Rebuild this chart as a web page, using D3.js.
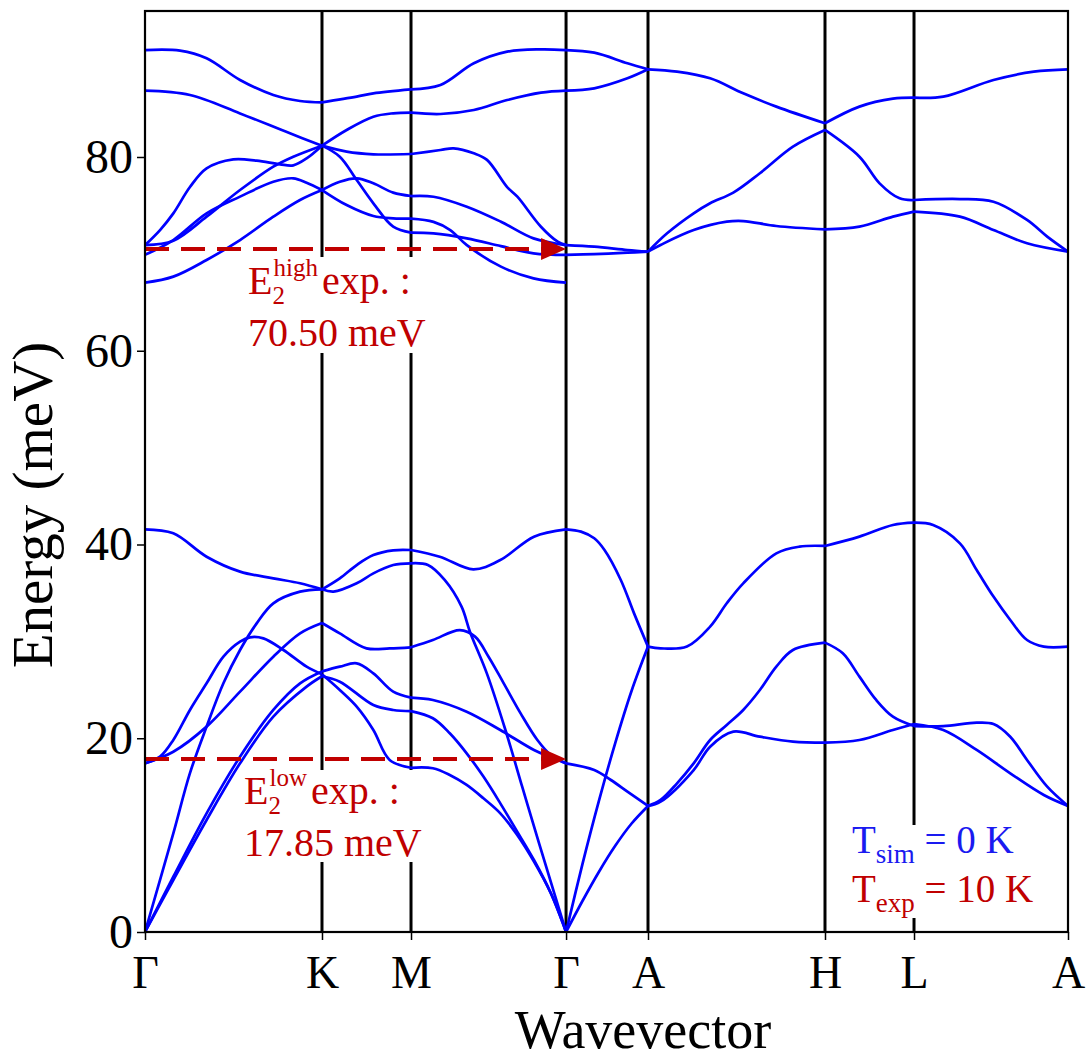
<!DOCTYPE html>
<html>
<head>
<meta charset="utf-8">
<script src="https://cdn.jsdelivr.net/npm/d3@7"></script>
<style>
  html, body { margin: 0; padding: 0; background: #fff; }
  svg { display: block; }
  text { font-family: "Liberation Serif", "Times New Roman", serif; }
</style>
</head>
<body>
<svg id="chart" width="1088" height="1062"></svg>
<script>
// ---------------- data ----------------
const qLabels = ["Γ", "K", "M", "Γ", "A", "H", "L", "A"];
const qPos = [0, 1.0, 1.503, 2.379, 2.842, 3.842, 4.345, 5.215];
const yTicks = [0, 20, 40, 60, 80];
const yMax = 95.07;

// each band: [fraction along segment, energy (meV)]
const bandsGK = [
  [[0,91.04],[0.198,90.98],[0.348,90.19],[0.537,87.95],[0.725,86.40],[0.876,85.78],[1,85.64]],
  [[0,86.85],[0.254,86.40],[0.537,84.50],[0.819,82.44],[1,81.17]],
  [[0,70.9],[0.085,72.46],[0.16,74.18],[0.254,76.9],[0.348,78.83],[0.499,79.76],[0.631,79.62],[0.763,79.24],[0.838,79.14],[0.913,79.86],[1,81.17]],
  [[0,70.9],[0.16,71.36],[0.348,73.84],[0.537,76.59],[0.725,79.0],[0.838,80.03],[1,81.17]],
  [[0,69.9],[0.16,71.43],[0.348,74.18],[0.537,75.91],[0.725,77.45],[0.838,77.8],[0.913,77.35],[1,76.59]],
  [[0,67.03],[0.16,67.65],[0.348,69.37],[0.537,71.43],[0.725,73.84],[0.876,75.56],[1,76.59]],
  [[0,41.57],[0.16,41.15],[0.348,38.74],[0.537,37.2],[0.725,36.51],[0.876,36.0],[1,35.37]],
  [[0,0],[0.16,10.18],[0.254,16.4],[0.348,21.2],[0.443,25.67],[0.537,29.11],[0.631,31.86],[0.725,33.93],[0.876,35.13],[1,35.37]],
  [[0,17.41],[0.16,18.61],[0.348,21.2],[0.537,24.81],[0.725,28.42],[0.876,30.83],[1,31.9]],
  [[0,17.41],[0.085,18.1],[0.16,19.82],[0.254,22.92],[0.348,25.67],[0.443,28.42],[0.537,29.97],[0.593,30.42],[0.669,30.31],[0.782,29.11],[0.913,27.39],[1,26.6]],
  [[0,0],[0.16,5.71],[0.348,12.25],[0.537,18.1],[0.725,22.92],[0.876,25.67],[1,26.9]],
  [[0,0],[0.16,5.37],[0.348,11.56],[0.537,17.41],[0.725,22.23],[0.913,25.33],[1,26.4]]
];
const bandsKM = [
  [[0,85.64],[0.39,86.23],[0.577,86.57],[1,86.98]],
  [[0,81.17],[0.277,82.79],[0.577,84.16],[0.8,84.51],[1,84.58]],
  [[0,81.17],[0.277,80.55],[0.577,80.28],[1,80.31]],
  [[0,81.17],[0.2,80.03],[0.39,77.62],[0.577,75.22],[0.8,72.81],[1,72.2]],
  [[0,76.59],[0.2,77.45],[0.39,77.8],[0.577,77.28],[0.8,76.32],[1,75.97]],
  [[0,76.59],[0.277,75.04],[0.577,73.91],[0.8,73.67],[1,73.63]],
  [[0,35.37],[0.2,36.51],[0.39,37.88],[0.577,38.91],[0.8,39.4],[1,39.43]],
  [[0,35.37],[0.13,35.13],[0.39,35.99],[0.577,37.02],[0.8,37.88],[1,38.06]],
  [[0,31.9],[0.2,30.83],[0.5,29.28],[0.76,29.28],[1,29.39]],
  [[0,26.9],[0.2,27.39],[0.39,27.73],[0.577,26.7],[0.8,24.81],[1,24.2]],
  [[0,26.4],[0.2,25.84],[0.577,23.43],[0.8,22.92],[1,22.8]],
  [[0,26.6],[0.2,24.98],[0.39,23.26],[0.577,20.85],[0.76,17.76],[1,16.95]]
];
const bandsMG = [
  [[0,86.98],[0.19,87.43],[0.405,89.67],[0.62,90.87],[0.838,91.11],[1,91.04]],
  [[0,84.58],[0.19,84.44],[0.405,84.85],[0.62,85.88],[0.838,86.64],[1,86.85]],
  [[0,80.31],[0.19,80.72],[0.275,80.89],[0.405,80.38],[0.49,79.7],[0.62,76.9],[0.686,75.9],[0.838,72.8],[0.946,71.26],[1,70.9]],
  [[0,75.97],[0.145,75.9],[0.36,74.87],[0.58,73.32],[0.79,71.6],[1,70.9]],
  [[0,73.63],[0.145,73.3],[0.253,72.46],[0.36,70.9],[0.58,68.68],[0.79,67.47],[1,67.03]],
  [[0,72.2],[0.145,72.12],[0.36,71.6],[0.58,70.8],[0.79,70.06],[1,69.9]],
  [[0,39.43],[0.185,38.74],[0.402,37.44],[0.576,38.4],[0.793,40.81],[1,41.57]],
  [[0,38.06],[0.109,37.88],[0.217,36.34],[0.326,33.58],[0.38,31.0],[0.489,26.7],[0.609,20.85],[0.717,15.0],[0.826,9.15],[1,0]],
  [[0,29.39],[0.141,30.14],[0.315,31.17],[0.413,30.49],[0.5,28.42],[0.598,25.67],[0.707,22.57],[0.815,19.82],[0.902,18.27],[1,17.41]],
  [[0,24.2],[0.141,23.95],[0.359,22.74],[0.576,20.85],[0.793,18.79],[0.902,18.03],[1,17.41]],
  [[0,22.8],[0.141,22.06],[0.25,20.51],[0.359,18.44],[0.467,16.04],[0.576,13.28],[0.685,10.36],[0.793,7.43],[0.902,4.0],[1,0]],
  [[0,16.95],[0.141,16.9],[0.25,16.21],[0.359,15.18],[0.467,13.8],[0.576,12.25],[0.685,10.01],[0.793,7.26],[0.902,4.0],[1,0]]
];
const bandsGA = [
  [[0,91.04],[0.344,90.77],[0.749,89.67],[1,89.05]],
  [[0,86.85],[0.344,87.09],[0.749,88.12],[1,89.05]],
  [[0,70.9],[0.344,70.74],[0.749,70.4],[1,70.23]],
  [[0,69.9],[0.344,69.98],[0.749,70.12],[1,70.23]],
  [[0,41.57],[0.182,41.33],[0.344,40.64],[0.469,39.43],[0.668,36.34],[0.83,32.89],[1,29.46]],
  [[0,17.41],[0.344,16.72],[0.547,15.69],[0.749,14.49],[1,13.01]],
  [[0,0],[0.2,7.0],[0.4,13.5],[0.6,19.5],[0.8,24.9],[1,29.46]],
  [[0,0],[0.2,3.2],[0.4,6.2],[0.6,8.9],[0.8,11.2],[1,13.01]]
];
const bandsAH = [
  [[0,89.05],[0.164,88.81],[0.351,88.12],[0.538,86.57],[0.725,85.2],[1,83.48]],
  [[0,70.23],[0.108,72.12],[0.258,74.18],[0.351,75.22],[0.482,76.32],[0.632,78.32],[0.819,81.07],[1,82.79]],
  [[0,70.23],[0.071,70.92],[0.258,72.46],[0.445,73.32],[0.538,73.39],[0.725,72.88],[1,72.53]],
  [[0,29.46],[0.071,29.28],[0.22,29.46],[0.351,31.52],[0.445,33.93],[0.538,35.99],[0.725,39.09],[0.856,39.78],[1,39.85]],
  [[0,13.01],[0.071,13.63],[0.164,15.35],[0.258,17.41],[0.351,19.82],[0.445,21.37],[0.538,22.92],[0.632,24.98],[0.725,27.39],[0.819,29.11],[1,29.87]],
  [[0,13.01],[0.071,13.45],[0.258,16.72],[0.351,19.13],[0.482,20.68],[0.632,20.16],[0.819,19.65],[1,19.54]]
];
const bandsHL = [
  [[0,83.48],[0.387,85.2],[0.763,86.02],[1,86.13]],
  [[0,82.79],[0.387,80.03],[0.613,77.28],[0.838,75.73],[1,75.56]],
  [[0,72.53],[0.387,72.81],[0.763,73.84],[1,74.36]],
  [[0,39.85],[0.387,40.81],[0.763,42.01],[1,42.25]],
  [[0,29.87],[0.2,28.77],[0.387,26.36],[0.575,23.95],[0.763,22.23],[1,21.26]],
  [[0,19.54],[0.387,19.82],[0.763,20.85],[1,21.47]]
];
const bandsLA = [
  [[0,86.13],[0.19,86.23],[0.516,87.95],[0.778,88.81],[1,89.05]],
  [[0,75.56],[0.298,75.66],[0.516,75.38],[0.734,73.5],[0.865,71.78],[1,70.23]],
  [[0,74.36],[0.298,73.84],[0.516,72.46],[0.734,71.09],[1,70.23]],
  [[0,42.25],[0.124,42.01],[0.298,40.12],[0.407,37.37],[0.516,34.62],[0.625,32.21],[0.734,30.14],[0.843,29.46],[1,29.46]],
  [[0,21.26],[0.19,21.26],[0.407,21.61],[0.516,21.47],[0.625,20.16],[0.734,17.76],[0.865,15.0],[1,13.01]],
  [[0,21.47],[0.19,20.85],[0.407,18.79],[0.625,16.38],[0.843,14.14],[1,13.01]]
];
const segments = [bandsGK, bandsKM, bandsMG, bandsGA, bandsAH, bandsHL, bandsLA];

// experimental E2 modes
const expModes = [
  { label: "high", value: 70.50, text: "70.50 meV" },
  { label: "low", value: 17.85, text: "17.85 meV" }
];

// ---------------- layout ----------------
const W = 1088, H = 1062;
const m = { left: 145, right: 20, top: 11, bottom: 130 };
const svg = d3.select("#chart");
const x = d3.scaleLinear().domain([0, qPos[qPos.length - 1]]).range([m.left, W - m.right]);
const y = d3.scaleLinear().domain([0, yMax]).range([H - m.bottom, m.top]);
const RED = "#c00000";
const BLUE = "#0000ff";

const defs = svg.append("defs");
defs.append("clipPath").attr("id", "clip").append("rect")
  .attr("x", m.left).attr("y", m.top)
  .attr("width", W - m.left - m.right).attr("height", H - m.top - m.bottom);

// vertical high-symmetry lines
svg.append("g").selectAll("line").data(qPos.slice(1, -1)).join("line")
  .attr("x1", d => x(d)).attr("x2", d => x(d))
  .attr("y1", y(0)).attr("y2", y(yMax))
  .attr("stroke", "#000").attr("stroke-width", 3);

// white boxes behind annotations
const boxes = [
  { x0: 238, x1: 442, y0: 257, y1: 353 },
  { x0: 236, x1: 440, y0: 770, y1: 862 },
  { x0: 840, x1: 1050, y0: 825, y1: 918 }
];
svg.append("g").selectAll("rect").data(boxes).join("rect")
  .attr("x", d => d.x0).attr("y", d => d.y0)
  .attr("width", d => d.x1 - d.x0).attr("height", d => d.y1 - d.y0)
  .attr("fill", "#fff");

// bands
const line = d3.line().curve(d3.curveCatmullRom.alpha(0.5))
  .x(d => x(d[0])).y(d => y(d[1]));
const bandG = svg.append("g").attr("clip-path", "url(#clip)");
segments.forEach((bands, i) => {
  const q0 = qPos[i], q1 = qPos[i + 1];
  bands.forEach(b => {
    const pts = b.map(([f, e]) => [q0 + f * (q1 - q0), e]);
    bandG.append("path").attr("d", line(pts))
      .attr("fill", "none").attr("stroke", BLUE).attr("stroke-width", 2.7)
      .attr("stroke-linejoin", "round");
  });
});

// experimental arrows
const arrowEnd = x(qPos[3]);
const arrowG = svg.append("g");
expModes.forEach(e => {
  const yy = y(e.value);
  arrowG.append("line")
    .attr("x1", x(0)).attr("x2", arrowEnd - 22)
    .attr("y1", yy).attr("y2", yy)
    .attr("stroke", RED).attr("stroke-width", 4)
    .attr("stroke-dasharray", "24,12");
  arrowG.append("path")
    .attr("d", `M${arrowEnd},${yy} L${arrowEnd - 25},${yy - 11} L${arrowEnd - 25},${yy + 11} Z`)
    .attr("fill", RED);
});

// frame
svg.append("rect")
  .attr("x", m.left).attr("y", m.top)
  .attr("width", W - m.left - m.right).attr("height", H - m.top - m.bottom)
  .attr("fill", "none").attr("stroke", "#000").attr("stroke-width", 2.2);

// axes
const yAxis = svg.append("g").attr("transform", `translate(${m.left},0)`)
  .call(d3.axisLeft(y).tickValues(yTicks).tickSize(8).tickPadding(4).tickFormat(d3.format("d")));
yAxis.select(".domain").remove();
yAxis.selectAll("line").attr("stroke-width", 1.5);
yAxis.selectAll("text").attr("font-size", 48).attr("fill", "#000")
  .attr("font-family", "Liberation Serif");

const xAxis = svg.append("g").attr("transform", `translate(0,${y(0)})`)
  .call(d3.axisBottom(x).tickValues(qPos).tickSize(8).tickFormat((d, i) => qLabels[i]));
xAxis.select(".domain").remove();
xAxis.selectAll("line").attr("stroke-width", 1.5);
xAxis.selectAll("text").attr("font-size", 46).attr("fill", "#000")
  .attr("dy", null).attr("y", 56).attr("font-family", "Liberation Serif");

// axis titles
svg.append("text").attr("x", 643).attr("y", 1048)
  .attr("text-anchor", "middle").attr("font-size", 54).text("Wavevector");
svg.append("text").attr("transform", "translate(52,505) rotate(-90)")
  .attr("text-anchor", "middle").attr("font-size", 57).text("Energy (meV)");

// annotations (one text element per label, with sub/superscript tspans)
function measure(str, size) {
  const t = svg.append("text").attr("font-size", size).text(str);
  const w = t.node().getComputedTextLength();
  t.remove();
  return w;
}
function e2Label(x0, yb, sup, valueText) {
  const eW = measure("E", 40);
  const supW = measure(sup, 25);
  const t = svg.append("text").attr("x", x0).attr("y", yb)
    .attr("font-size", 40).attr("fill", RED);
  t.append("tspan").text("E");
  t.append("tspan").attr("font-size", 25).attr("dy", 10).text("2");
  t.append("tspan").attr("font-size", 25).attr("x", x0 + eW + 1).attr("dy", -28).text(sup);
  t.append("tspan").attr("x", x0 + eW + 1 + supW + 4).attr("dy", 18).text("exp. :");
  t.append("tspan").attr("x", x0).attr("y", yb + 52).text(valueText);
}
e2Label(248, 294, "high", expModes[0].text);
e2Label(244, 804, "low", expModes[1].text);

// temperature legend
const tg = svg.append("g");
const t1 = tg.append("text").attr("x", 852).attr("y", 853).attr("font-size", 39).attr("fill", "#1a1af0");
t1.append("tspan").text("T");
t1.append("tspan").attr("font-size", 27).attr("dy", 10).text("sim");
t1.append("tspan").attr("dy", -10).text(" = 0 K");
const t2 = tg.append("text").attr("x", 852).attr("y", 902).attr("font-size", 39).attr("fill", RED);
t2.append("tspan").text("T");
t2.append("tspan").attr("font-size", 27).attr("dy", 10).text("exp");
t2.append("tspan").attr("dy", -10).text(" = 10 K");
</script>
</body>
</html>
